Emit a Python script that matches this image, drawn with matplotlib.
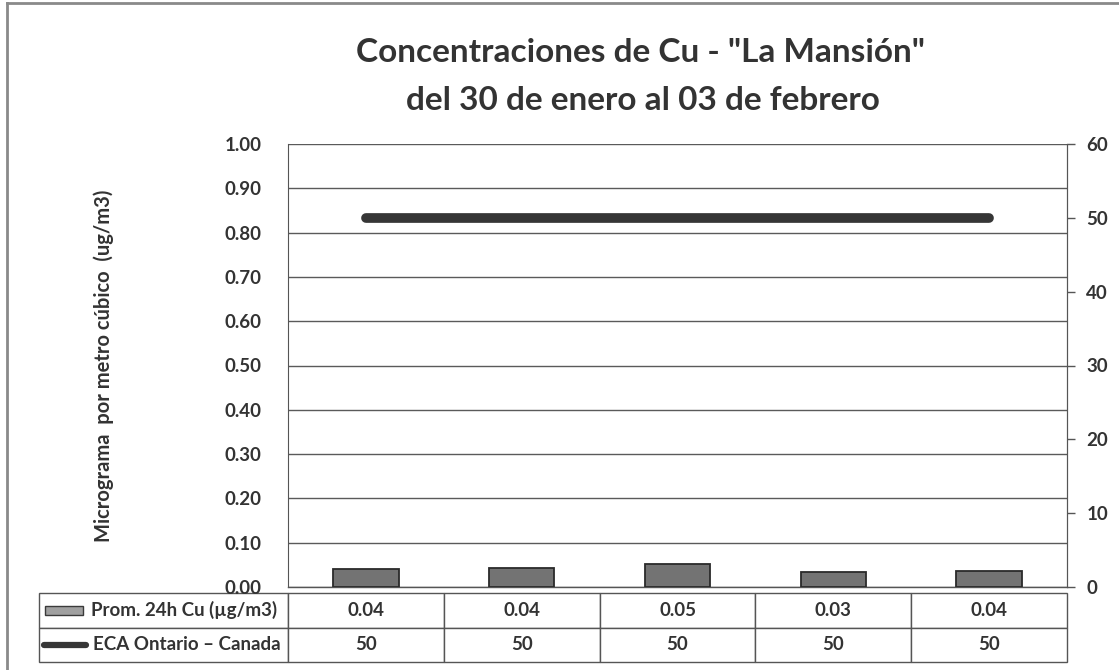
import matplotlib.pyplot as plt
import numpy as np
from matplotlib.lines import Line2D
from matplotlib.patches import Rectangle

plt.rcParams['font.family'] = ['Lato', 'DejaVu Sans']
plt.rcParams['font.weight'] = 'bold'
plt.rcParams['axes.labelweight'] = 'bold'

# data
days = ["30 ene", "31 ene", "01 feb", "02 feb", "03 feb"]
cu_24h = [0.041, 0.044, 0.052, 0.034, 0.036]      # ug/m3, left axis
eca_ontario = [50, 50, 50, 50, 50]                  # right axis
bar_label = "Prom. 24h Cu (\u00b5g/m3)"
line_label = "ECA Ontario \u2013 Canada"

TXT = '#333333'
fig = plt.figure(figsize=(11.19, 6.70), dpi=100)
ax = fig.add_axes([288 / 1119, 1 - 587 / 670, 779 / 1119, 443 / 670])
ax2 = ax.twinx()

x = np.arange(len(days))
ax.bar(x, cu_24h, width=0.42, color='#737373', edgecolor='#2a2a2a', linewidth=1.3, zorder=3)
ax2.plot(x, eca_ontario, color='#363636', linewidth=7, solid_capstyle='round', zorder=4)

ax.set_xlim(-0.5, len(days) - 0.5)
ax.set_ylim(0, 1.0)
ax.set_yticks(np.arange(0, 1.01, 0.1))
ax.set_yticklabels([f"{v:.2f}" for v in np.arange(0, 1.01, 0.1)])
ax.tick_params(axis='y', length=0, pad=19, labelsize=13.5, colors=TXT)
ax.set_xticks([])
ax.grid(axis='y', color='#5a5a5a', linewidth=1)
ax.set_axisbelow(True)
for s in ['top', 'bottom']:
    ax.spines[s].set_visible(False)
ax.spines['left'].set_color('#555555')
ax.spines['right'].set_color('#555555')

ax2.set_ylim(0, 60)
ax2.set_yticks(range(0, 61, 10))
ax2.tick_params(axis='y', length=6, width=1, pad=8, labelsize=13.5, colors=TXT, tickdir='out')
ax2.tick_params(axis='y', color='#555555')
for s in ['top', 'bottom', 'left']:
    ax2.spines[s].set_visible(False)
ax2.spines['right'].set_color('#555555')
ax2.set_zorder(ax.get_zorder() + 1)
ax2.patch.set_visible(False)

# bottom line of plot area
ax.axhline(0, color='#555555', linewidth=1, zorder=2, clip_on=False)

ax.set_ylabel("Micrograma  por metro c\u00fabico  (ug/m3)", fontsize=14.5, color=TXT)
ax.yaxis.set_label_coords(-174 / 779, 0.5)

# data table under the plot
tbl_top = -6 / 443
tbl_bot = -75 / 443
first_w = 249 / 779
cell_text = [[""] + [f"{v:.2f}" for v in cu_24h],
             [""] + [f"{v:g}" for v in eca_ontario]]
tbl = ax.table(cellText=cell_text, cellLoc='center',
               colWidths=[first_w] + [1 / len(days)] * len(days),
               bbox=[-first_w, tbl_bot, 1 + first_w, tbl_top - tbl_bot])
tbl.auto_set_font_size(False)
for (r, c), cell in tbl.get_celld().items():
    cell.set_edgecolor('#555555')
    cell.set_linewidth(1)
    cell.get_text().set_fontsize(13.5)
    cell.get_text().set_fontweight('bold')
    cell.get_text().set_color(TXT)

row_h = (tbl_top - tbl_bot) / 2
y_r1 = tbl_top - row_h / 2
y_r2 = tbl_top - 1.5 * row_h
ax.text(-197 / 779, y_r1, bar_label, transform=ax.transAxes, ha='left', va='center',
        fontsize=13.5, color=TXT)
ax.text(-195 / 779, y_r2, line_label, transform=ax.transAxes, ha='left', va='center',
        fontsize=13.5, color=TXT)
ax.add_patch(Rectangle((-243 / 779, y_r1 - 4.5 / 443), 38 / 779, 9 / 443, transform=ax.transAxes,
                       facecolor='#a0a0a0', edgecolor='#3a3a3a', linewidth=1, clip_on=False))
ax.add_line(Line2D([-244 / 779, -202 / 779], [y_r2, y_r2], transform=ax.transAxes,
                   color='#363636', linewidth=4.5, solid_capstyle='round', clip_on=False))

fig.text(641 / 1119, 1 - 62 / 670, 'Concentraciones de Cu - "La Mansi\u00f3n"', ha='center', va='baseline',
         fontsize=24, color=TXT)
fig.text(643 / 1119, 1 - 110 / 670, "del 30 de enero al 03 de febrero", ha='center', va='baseline',
         fontsize=24, color=TXT)

# outer frame
fig.add_artist(Line2D([7 / 1119, 7 / 1119], [0, 1 - 3 / 670], transform=fig.transFigure,
                      color='#8a8a8a', linewidth=2))
fig.add_artist(Line2D([7 / 1119, 1], [1 - 3 / 670, 1 - 3 / 670], transform=fig.transFigure,
                      color='#8a8a8a', linewidth=2))

fig.savefig("out.png", dpi=100)
